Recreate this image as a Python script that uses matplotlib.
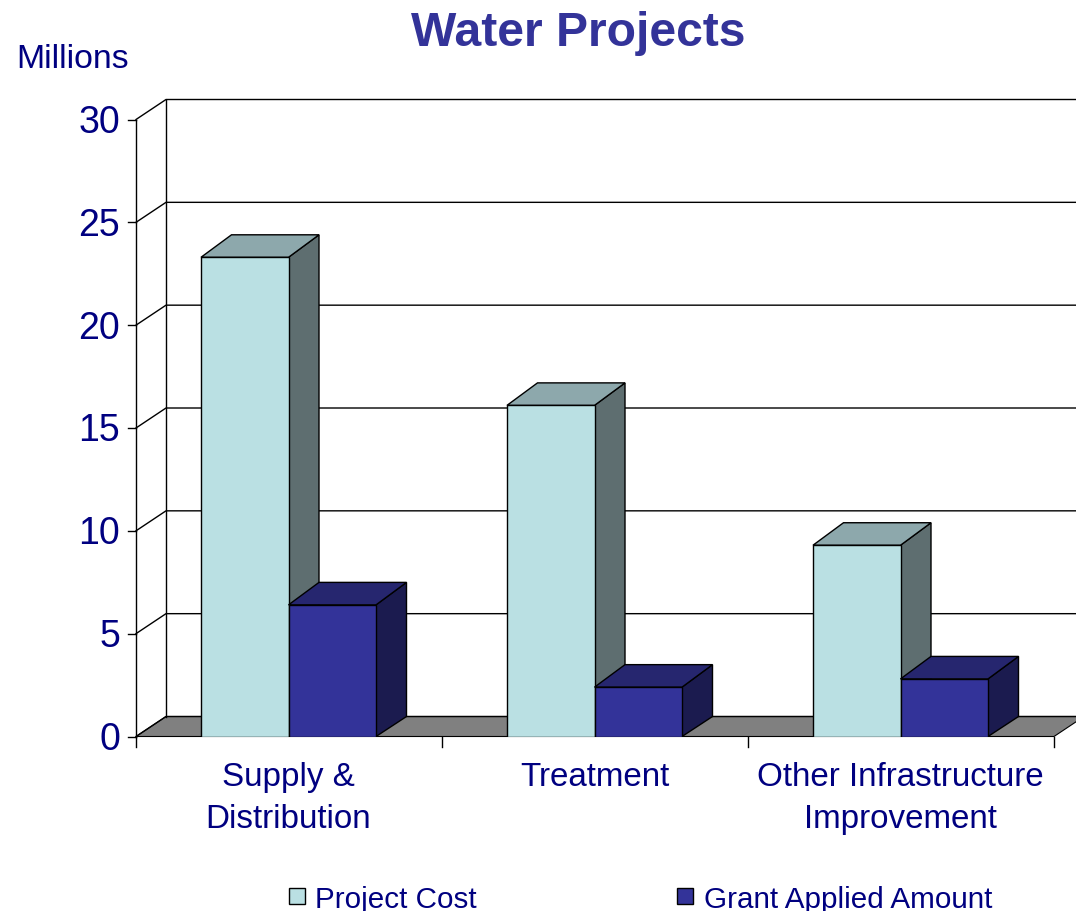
import matplotlib
matplotlib.use("Agg")
import matplotlib.pyplot as plt
from matplotlib.patches import Polygon, Rectangle

plt.rcParams['font.family'] = ['Liberation Sans', 'DejaVu Sans']

categories = ["Supply &\nDistribution", "Treatment", "Other Infrastructure\nImprovement"]
project_cost = [23.3, 16.1, 9.3]
grant_amount = [6.4, 2.4, 2.8]
y_ticks = [0, 5, 10, 15, 20, 25, 30]

W, H = 1076, 912
fig = plt.figure(figsize=(W / 100, H / 100), dpi=100)
ax = fig.add_axes([136 / W, 1 - 737.5 / H, 918 / W, 617 / H])
ax.set_xlim(0, 3)
ax.set_ylim(0, 30)
ax.axis("off")

# depth of the fake 3d box, in data units
dx = 30 / 306
dy = 20 / 20.57
bar_dx = 30.5 / 306
bar_dy = 22.5 / 20.57
navy = "#000080"

# floor
ax.add_patch(Polygon([(0, 0), (dx, dy), (3 + dx, dy), (3, 0)], closed=True, fc="#808080",
                     ec="black", lw=0.8, clip_on=False, zorder=1))
# gridlines and side wall
for t in y_ticks:
    ax.plot([0, dx, 3 + dx], [t, t + dy, t + dy], color="black", lw=1, clip_on=False, zorder=1)
    ax.plot([-0.026, 0], [t, t], color="black", lw=1, clip_on=False, zorder=1)
    ax.text(-0.052, t - 0.12, str(t), ha="right", va="center", fontsize=27, color=navy)
ax.plot([0, 0], [0, 30], color="black", lw=1, clip_on=False, zorder=1)
ax.plot([dx, dx], [dy, 30 + dy], color="black", lw=1, clip_on=False, zorder=1)
for i in range(4):
    ax.plot([i, i], [0, -0.5], color="black", lw=1, clip_on=False, zorder=1)


def bar3d(x0, w, v, front, top, side, z):
    ax.add_patch(Polygon([(x0 + w, 0), (x0 + w + bar_dx, dy), (x0 + w + bar_dx, v + bar_dy), (x0 + w, v)],
                         closed=True, fc=side, ec="black", lw=1, zorder=z))
    ax.add_patch(Polygon([(x0, v), (x0 + bar_dx, v + bar_dy), (x0 + w + bar_dx, v + bar_dy), (x0 + w, v)],
                         closed=True, fc=top, ec="black", lw=1, zorder=z))
    ax.add_patch(Rectangle((x0, 0), w, v, fc=front, ec="black", lw=1, zorder=z))


bw = 87.5 / 306
start = 65 / 306
for i, name in enumerate(categories):
    bar3d(i + start, bw, project_cost[i], "#BAE0E3", "#8DA8AC", "#5E6E70", 2 + i)
    bar3d(i + start + bw, bw, grant_amount[i], "#333399", "#26266F", "#1B1B4F", 2.5 + i)
    ax.text(i + start + bw, -1.2, name, ha="center", va="top", fontsize=23.9, color=navy,
            linespacing=1.44)

fig.text(578 / W, 1 - 34 / H, "Water Projects", ha="center", va="center", fontsize=34.6,
         fontweight="bold", color="#333399")
fig.text(73 / W, 1 - 60 / H, "Millions", ha="center", va="center", fontsize=24.3, color=navy)

# legend
fig.patches.append(Rectangle((289 / W, 1 - 905 / H), 16 / W, 16 / H, transform=fig.transFigure,
                             fc="#BAE0E3", ec="black", lw=1))
fig.patches.append(Rectangle((677 / W, 1 - 905 / H), 16 / W, 16 / H, transform=fig.transFigure,
                             fc="#333399", ec="black", lw=1))
fig.text(315 / W, 1 - 900 / H, "Project Cost", ha="left", va="center", fontsize=21.3, color=navy)
fig.text(704 / W, 1 - 900 / H, "Grant Applied Amount", ha="left", va="center", fontsize=21.3, color=navy)

fig.savefig("out.png", dpi=100)
